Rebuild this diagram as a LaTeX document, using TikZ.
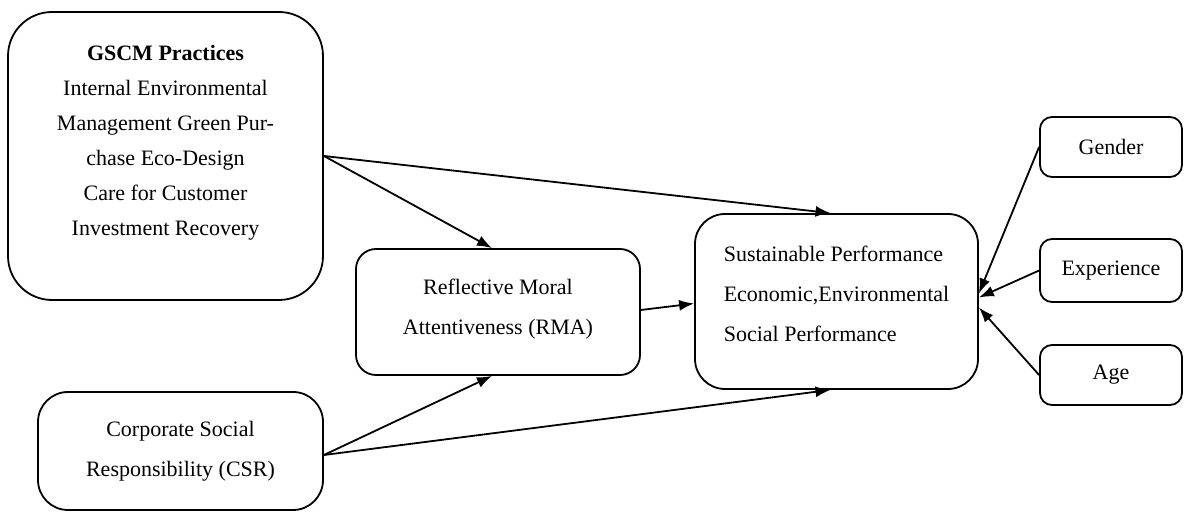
\documentclass[tikz,border=0pt]{standalone}
\usepackage{fontspec}
\setmainfont{Liberation Serif}
\usepackage{tikz}
\usetikzlibrary{positioning}
\usetikzlibrary{arrows.meta,shapes}
\tikzstyle{block} = [rectangle,rounded corners=10pt,draw,line width=0.9pt,align=center,inner sep=0pt,font=\fontsize{11}{20}\selectfont]
\tikzstyle{side} = [block,rounded corners=6pt,minimum width=71pt,minimum height=30pt]
\tikzstyle{line} = [draw, line width=0.9pt, -{Latex[length=7.5pt,width=5.5pt]}]

\begin{document}
\begin{tikzpicture}[x=0.5pt,y=-0.5pt]
            \useasboundingbox (0,0) rectangle (1184,523);
            \node[block,rounded corners=22pt,minimum width=157.5pt,minimum height=144pt,text depth=16pt,font=\fontsize{11}{17.5}\selectfont] (gscm) at (165.5,156)
                {\textbf{GSCM Practices}\\Internal Environmental\\Management Green Pur-\\chase Eco-Design\\Care for Customer\\Investment Recovery};
            \node[block,rounded corners=15pt,minimum width=142.5pt,minimum height=59pt] (csr) at (180.5,451)
                {Corporate Social\\Responsibility (CSR)};
            \node[block,minimum width=142pt,minimum height=63pt,text depth=5pt] (rma) at (498,312)
                {Reflective Moral\\Attentiveness (RMA)};
            \node[block,rounded corners=15pt,align=left,minimum width=141.5pt,minimum height=87.5pt,text depth=8pt] (sp) at (836.5,301.5)
                {Sustainable Performance\\Economic,Environmental\\Social Performance};
            \node[side] (gender) at (1111,147) {Gender};
            \node[side,minimum height=31.5pt] (exper) at (1111,270.5) {Experience};
            \node[side] (age) at (1111,375) {Age};
            \path[line] (gscm.east) -- ([xshift=-3pt]rma.north);
            \path[line] (gscm.east) -- ([xshift=-3pt]sp.north);
            \path[line] ([yshift=-2pt]csr.east) -- ([xshift=-3pt]rma.south);
            \path[line] ([yshift=-2pt]csr.east) -- ([xshift=-3pt]sp.south);
            \path[line] ([yshift=1pt]rma.east) -- ([yshift=-1pt]sp.west);
            \path[line] (gender.west) -- ([yshift=4pt]sp.east);
            \path[line] (exper.west) -- ([yshift=2pt]sp.east);
            \path[line] (age.west) -- ([yshift=-3pt]sp.east);
        \end{tikzpicture}
\end{document}
